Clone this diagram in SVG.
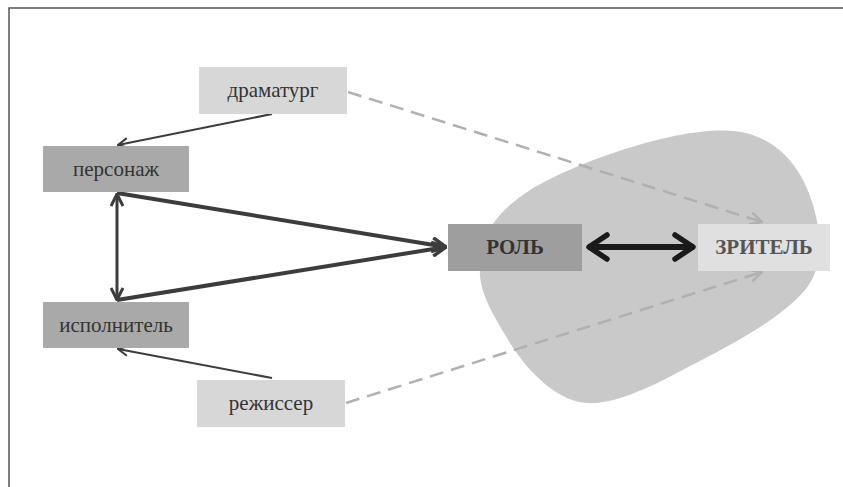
<svg xmlns="http://www.w3.org/2000/svg" width="843" height="487" viewBox="0 0 843 487">
<style>
.t{font-family:"Liberation Serif","Times New Roman",serif;font-size:21px;fill:#333;text-anchor:middle}
.b{font-weight:bold;font-size:21px}
.thin{stroke:#3c3c3c;stroke-width:2;fill:none}
.mid{stroke:#3c3c3c;stroke-width:3;fill:none}
.thick{stroke:#3c3c3c;stroke-width:4;fill:none}
.dash{stroke:#b0b0b0;stroke-width:2.5;fill:none;stroke-dasharray:14 8}
</style>
<defs>
<marker id="a1" viewBox="0 0 12 12" refX="11" refY="6" markerWidth="12" markerHeight="12" markerUnits="userSpaceOnUse" orient="auto-start-reverse"><path d="M1,1 L11,6 L1,11" fill="none" stroke="#3c3c3c" stroke-width="2"/></marker>
<marker id="a2" viewBox="0 0 14 14" refX="13" refY="7" markerWidth="14" markerHeight="14" markerUnits="userSpaceOnUse" orient="auto-start-reverse"><path d="M1,1 L13,7 L1,13" fill="none" stroke="#3c3c3c" stroke-width="3"/></marker>
<marker id="a3" viewBox="0 0 16 16" refX="15" refY="8" markerWidth="16" markerHeight="16" markerUnits="userSpaceOnUse" orient="auto-start-reverse"><path d="M1,1 L15,8 L1,15" fill="none" stroke="#3c3c3c" stroke-width="3.5"/></marker>
<marker id="a4" viewBox="0 0 24 30" refX="22" refY="15" markerWidth="24" markerHeight="30" markerUnits="userSpaceOnUse" orient="auto-start-reverse"><path d="M3,3 L21,15 L3,27" fill="none" stroke="#1a1a1a" stroke-width="5.5" stroke-linecap="round" stroke-linejoin="round"/></marker>
<marker id="a5" viewBox="0 0 14 14" refX="13" refY="7" markerWidth="14" markerHeight="14" markerUnits="userSpaceOnUse" orient="auto"><path d="M1,1 L13,7 L1,13" fill="none" stroke="#b0b0b0" stroke-width="2.5"/></marker>
</defs>
<rect x="0" y="0" width="843" height="487" fill="#fff"/>
<path d="M9,487 L9,8 L843,8" fill="none" stroke="#555" stroke-width="1.5"/>
<path id="blob" d="M733,131 C770,134 800,160 813,205 C823,240 823,268 805,290 C780,320 725,348 690,366 C655,385 615,405 587,403 C560,402 530,375 510,343 C490,310 478,290 480,265 C482,230 500,210 530,190 C580,160 680,126 733,131 Z" fill="#c9c9c9"/>
<g id="connectors">
<line class="dash" x1="348" y1="92" x2="762" y2="222" marker-end="url(#a5)"/>
<line class="dash" x1="346" y1="403" x2="762" y2="272" marker-end="url(#a5)"/>
<line class="thin" x1="272" y1="114" x2="118" y2="145" marker-end="url(#a1)"/>
<line class="thin" x1="272" y1="378" x2="118" y2="349" marker-end="url(#a1)"/>
<line class="mid" x1="117" y1="194" x2="117" y2="300" marker-start="url(#a2)" marker-end="url(#a2)"/>
<line class="thick" x1="117" y1="193" x2="446" y2="247" marker-end="url(#a3)"/>
<line class="thick" x1="117" y1="300" x2="446" y2="247" marker-end="url(#a3)"/>
<line x1="588" y1="247" x2="694" y2="247" stroke="#1a1a1a" stroke-width="6" marker-start="url(#a4)" marker-end="url(#a4)"/>
</g>
<g id="dramaturg"><rect x="199" y="67" width="148" height="47" fill="#d7d7d7"/><text class="t" x="273" y="97">драматург</text></g>
<g id="personazh"><rect x="43" y="146" width="146" height="46" fill="#a9a9a9"/><text class="t" x="116" y="176">персонаж</text></g>
<g id="ispolnitel"><rect x="43" y="302" width="146" height="46" fill="#a9a9a9"/><text class="t" x="116" y="332">исполнитель</text></g>
<g id="rezhisser"><rect x="197" y="380" width="148" height="47" fill="#d7d7d7"/><text class="t" x="271" y="410">режиссер</text></g>
<g id="rol"><rect x="448" y="224" width="134" height="47" fill="#9e9e9e"/><text class="t b" x="515" y="254">РОЛЬ</text></g>
<g id="zritel"><rect x="698" y="224" width="132" height="47" fill="#e0e0e0"/><text class="t b" x="764" y="254" style="fill:#555">ЗРИТЕЛЬ</text></g>
</svg>
